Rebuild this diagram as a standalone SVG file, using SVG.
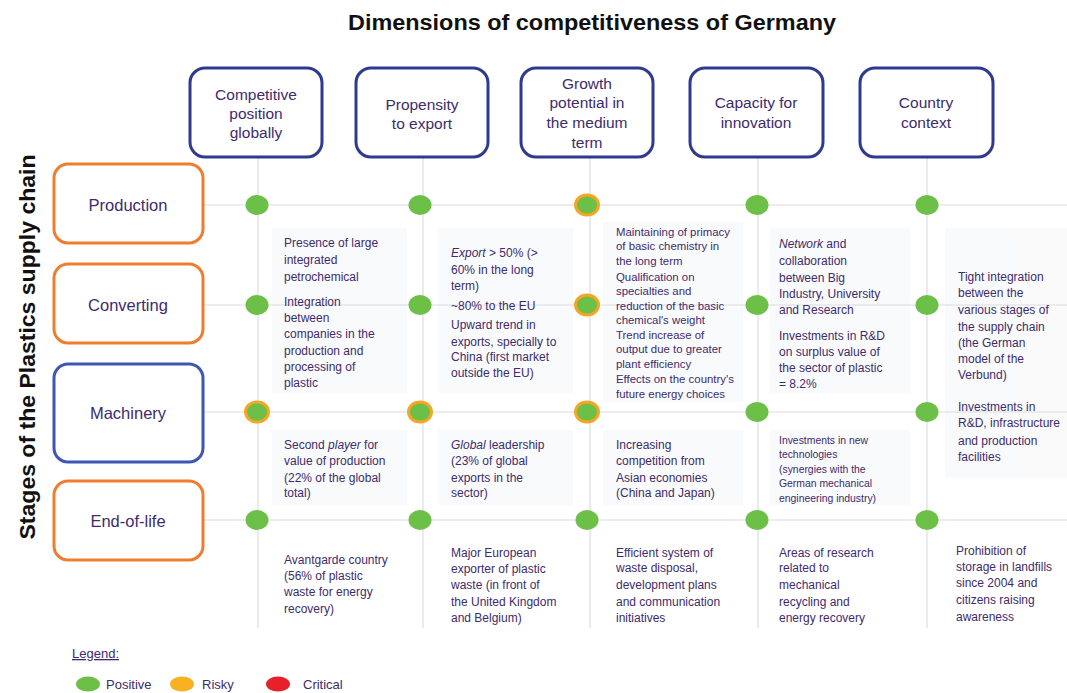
<svg xmlns="http://www.w3.org/2000/svg" width="1067" height="693" viewBox="0 0 1067 693">
<style>
.t{font-family:"Liberation Sans",Arial,sans-serif;fill:#3d2b6e}
.hd{font-size:15.5px;text-anchor:middle}
.rl{font-size:16.5px;text-anchor:middle}
.b{font-size:12px}
.s{font-size:11.4px}
.xs{font-size:10.4px}
.hbox{fill:#fff;stroke:#2d3a8f;stroke-width:3}
.obox{fill:#fff;stroke:#f07d2e;stroke-width:3}
.bbox{fill:#fff;stroke:#3d57b3;stroke-width:3}
.g{fill:#6cbf47}
.r{fill:#6cbf47;stroke:#f6a623;stroke-width:3}
.ln{stroke:#dcdcdf;stroke-width:1.2;fill:none}
.pn{fill:#f3f4f7}
</style>
<rect width="1067" height="693" fill="#ffffff"/>
<g id="panels" opacity="0.45">
<rect class="pn" x="272" y="228" width="135" height="165"/>
<rect class="pn" x="438" y="228" width="135" height="165"/>
<rect class="pn" x="603" y="222" width="140" height="180"/>
<rect class="pn" x="770" y="228" width="140" height="165"/>
<rect class="pn" x="945" y="228" width="122" height="250"/>
<rect class="pn" x="272" y="430" width="135" height="75"/>
<rect class="pn" x="438" y="430" width="135" height="75"/>
<rect class="pn" x="603" y="430" width="140" height="75"/>
<rect class="pn" x="770" y="430" width="140" height="75"/>
</g>
<text class="t" x="592" y="30" font-size="22" font-weight="bold" text-anchor="middle" style="fill:#111" textLength="488" lengthAdjust="spacingAndGlyphs">Dimensions of competitiveness of Germany</text>
<text class="t" transform="translate(35,347) rotate(-90)" font-size="22" font-weight="bold" text-anchor="middle" style="fill:#111" textLength="385" lengthAdjust="spacingAndGlyphs">Stages of the Plastics supply chain</text>
<g id="connectors">
<line class="ln" x1="203" y1="205" x2="1067" y2="205"/>
<line class="ln" x1="203" y1="305" x2="1067" y2="305"/>
<line class="ln" x1="203" y1="412" x2="1067" y2="412"/>
<line class="ln" x1="203" y1="520" x2="1067" y2="520"/>
<line class="ln" x1="258" y1="157" x2="258" y2="628"/>
<line class="ln" x1="423" y1="157" x2="423" y2="628"/>
<line class="ln" x1="590" y1="157" x2="590" y2="628"/>
<line class="ln" x1="758" y1="157" x2="758" y2="628"/>
<line class="ln" x1="927" y1="157" x2="927" y2="628"/>
</g>
<g id="h1"><rect class="hbox" x="190" y="68" width="132" height="89" rx="15"/>
<text class="t hd" x="256" y="100">Competitive</text><text class="t hd" x="256" y="119">position</text><text class="t hd" x="256" y="138">globally</text></g>
<g id="h2"><rect class="hbox" x="356" y="68" width="132" height="89" rx="15"/>
<text class="t hd" x="422" y="110">Propensity</text><text class="t hd" x="422" y="129">to export</text></g>
<g id="h3"><rect class="hbox" x="521" y="68" width="132" height="89" rx="15"/>
<text class="t hd" x="587" y="89">Growth</text><text class="t hd" x="587" y="108">potential in</text><text class="t hd" x="587" y="128">the medium</text><text class="t hd" x="587" y="148">term</text></g>
<g id="h4"><rect class="hbox" x="690" y="68" width="133" height="89" rx="15"/>
<text class="t hd" x="756" y="108">Capacity for</text><text class="t hd" x="756" y="128">innovation</text></g>
<g id="h5"><rect class="hbox" x="860" y="68" width="133" height="89" rx="15"/>
<text class="t hd" x="926" y="108">Country</text><text class="t hd" x="926" y="128">context</text></g>
<g id="production"><rect class="obox" x="54" y="164" width="149" height="79" rx="14"/><text class="t rl" x="128" y="211">Production</text></g>
<g id="converting"><rect class="obox" x="54" y="264" width="149" height="79" rx="14"/><text class="t rl" x="128" y="311">Converting</text></g>
<g id="machinery"><rect class="bbox" x="54" y="364" width="149" height="98" rx="14"/><text class="t rl" x="128" y="419">Machinery</text></g>
<g id="endoflife"><rect class="obox" x="54" y="481" width="149" height="79" rx="14"/><text class="t rl" x="128" y="527">End-of-life</text></g>
<g id="dots">
<ellipse class="g" cx="257" cy="205" rx="11.5" ry="10"/>
<ellipse class="g" cx="420" cy="205" rx="11.5" ry="10"/>
<ellipse class="r" cx="587" cy="205" rx="11.5" ry="10"/>
<ellipse class="g" cx="757" cy="205" rx="11.5" ry="10"/>
<ellipse class="g" cx="927" cy="205" rx="11.5" ry="10"/>
<ellipse class="g" cx="257" cy="305" rx="11.5" ry="10"/>
<ellipse class="g" cx="420" cy="305" rx="11.5" ry="10"/>
<ellipse class="r" cx="587" cy="305" rx="11.5" ry="10"/>
<ellipse class="g" cx="757" cy="305" rx="11.5" ry="10"/>
<ellipse class="g" cx="927" cy="305" rx="11.5" ry="10"/>
<ellipse class="r" cx="257" cy="412" rx="11.5" ry="10"/>
<ellipse class="r" cx="420" cy="412" rx="11.5" ry="10"/>
<ellipse class="r" cx="587" cy="412" rx="11.5" ry="10"/>
<ellipse class="g" cx="757" cy="412" rx="11.5" ry="10"/>
<ellipse class="g" cx="927" cy="412" rx="11.5" ry="10"/>
<ellipse class="g" cx="257" cy="520" rx="11.5" ry="10"/>
<ellipse class="g" cx="420" cy="520" rx="11.5" ry="10"/>
<ellipse class="g" cx="587" cy="520" rx="11.5" ry="10"/>
<ellipse class="g" cx="757" cy="520" rx="11.5" ry="10"/>
<ellipse class="g" cx="927" cy="520" rx="11.5" ry="10"/>
</g>
<g id="c1r12" class="t b">
<text x="284" y="247">Presence of large</text><text x="284" y="264">integrated</text><text x="284" y="281">petrochemical</text>
<text x="284" y="306">Integration</text><text x="284" y="322">between</text><text x="284" y="338">companies in the</text><text x="284" y="355">production and</text><text x="284" y="371">processing of</text><text x="284" y="387">plastic</text>
</g>
<g id="c2r12" class="t b">
<text x="451" y="257"><tspan font-style="italic">Export</tspan> &gt; 50%  (&gt;</text><text x="451" y="274">60% in the long</text><text x="451" y="290">term)</text>
<text x="451" y="310">~80% to the EU</text><text x="451" y="329">Upward trend in</text><text x="451" y="346">exports, specially to</text><text x="451" y="361">China (first market</text><text x="451" y="377">outside the EU)</text>
</g>
<g id="c3r12" class="t s">
<text x="616" y="236">Maintaining of primacy</text><text x="616" y="250">of basic chemistry in</text><text x="616" y="265">the long term</text><text x="616" y="281">Qualification on</text><text x="616" y="295">specialties and</text><text x="616" y="310">reduction of the basic</text><text x="616" y="324">chemical's weight</text><text x="616" y="339">Trend increase of</text><text x="616" y="353">output due to greater</text><text x="616" y="368">plant efficiency</text><text x="616" y="383">Effects on the country's</text><text x="616" y="398">future energy choices</text>
</g>
<g id="c4r12" class="t b">
<text x="779" y="248"><tspan font-style="italic">Network</tspan> and</text><text x="779" y="265">collaboration</text><text x="779" y="282">between Big</text><text x="779" y="298">Industry, University</text><text x="779" y="314">and Research</text>
<text x="779" y="340">Investments in R&amp;D</text><text x="779" y="356">on surplus value of</text><text x="779" y="372">the sector of plastic</text><text x="779" y="388">= 8.2%</text>
</g>
<g id="c5r12" class="t b">
<text x="958" y="281">Tight integration</text><text x="958" y="297">between the</text><text x="958" y="314">various stages of</text><text x="958" y="331">the supply chain</text><text x="958" y="347">(the German</text><text x="958" y="363">model of the</text><text x="958" y="379">Verbund)</text>
<text x="958" y="411">Investments in</text><text x="958" y="427">R&amp;D, infrastructure</text><text x="958" y="445">and production</text><text x="958" y="461">facilities</text>
</g>
<g id="c1r3" class="t b">
<text x="284" y="449">Second <tspan font-style="italic">player</tspan> for</text><text x="284" y="465">value of production</text><text x="284" y="482">(22% of the global</text><text x="284" y="497">total)</text>
</g>
<g id="c2r3" class="t b">
<text x="451" y="449"><tspan font-style="italic">Global</tspan> leadership</text><text x="451" y="465">(23% of global</text><text x="451" y="482">exports in the</text><text x="451" y="497">sector)</text>
</g>
<g id="c3r3" class="t b">
<text x="616" y="449">Increasing</text><text x="616" y="465">competition from</text><text x="616" y="482">Asian economies</text><text x="616" y="497">(China and Japan)</text>
</g>
<g id="c4r3" class="t xs">
<text x="779" y="444">Investments in new</text><text x="779" y="458">technologies</text><text x="779" y="473">(synergies with the</text><text x="779" y="487">German mechanical</text><text x="779" y="502">engineering industry)</text>
</g>
<g id="c1r4" class="t b">
<text x="284" y="564">Avantgarde country</text><text x="284" y="580">(56% of plastic</text><text x="284" y="596">waste for energy</text><text x="284" y="613">recovery)</text>
</g>
<g id="c2r4" class="t b">
<text x="451" y="557">Major European</text><text x="451" y="573">exporter of plastic</text><text x="451" y="589">waste (in front of</text><text x="451" y="606">the United Kingdom</text><text x="451" y="622">and Belgium)</text>
</g>
<g id="c3r4" class="t b">
<text x="616" y="557">Efficient system of</text><text x="616" y="572">waste disposal,</text><text x="616" y="589">development plans</text><text x="616" y="606">and communication</text><text x="616" y="622">initiatives</text>
</g>
<g id="c4r4" class="t b">
<text x="779" y="557">Areas of research</text><text x="779" y="572">related to</text><text x="779" y="589">mechanical</text><text x="779" y="606">recycling and</text><text x="779" y="622">energy recovery</text>
</g>
<g id="c5r4" class="t b">
<text x="956" y="555">Prohibition of</text><text x="956" y="571">storage in landfills</text><text x="956" y="587">since 2004 and</text><text x="956" y="604">citizens raising</text><text x="956" y="621">awareness</text>
</g>
<g id="legend">
<text class="t" x="72" y="658" font-size="13" text-decoration="underline">Legend:</text>
<ellipse cx="88" cy="684" rx="12" ry="7.5" fill="#6cbf47"/>
<text class="t" x="106" y="689" font-size="13">Positive</text>
<ellipse cx="182" cy="684" rx="12" ry="7.5" fill="#f9b122"/>
<text class="t" x="202" y="689" font-size="13">Risky</text>
<ellipse cx="278" cy="684" rx="12" ry="7.5" fill="#e8202a"/>
<text class="t" x="303" y="689" font-size="13">Critical</text>
</g>
</svg>
